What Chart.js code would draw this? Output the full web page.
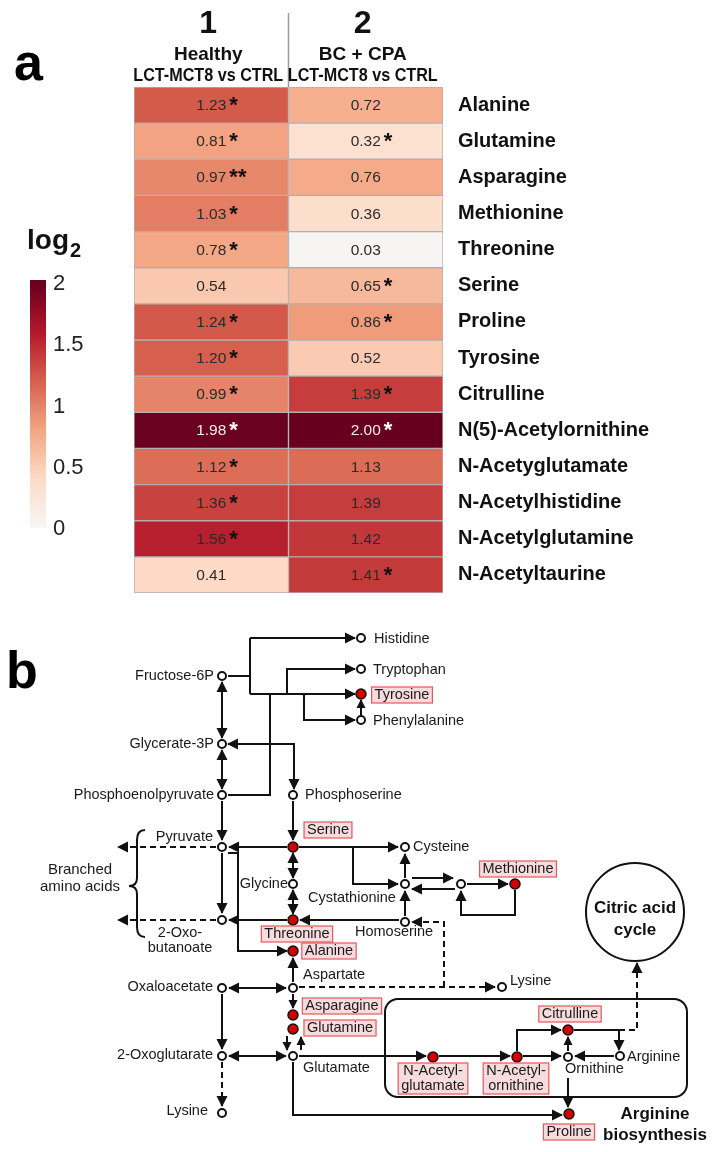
<!DOCTYPE html>
<html>
<head>
<meta charset="utf-8">
<script src="https://cdn.jsdelivr.net/npm/chart.js@4.4.1/dist/chart.umd.min.js"></script>
<style>
html, body { margin: 0; padding: 0; background: #fff; }
#wrap { position: relative; width: 714px; height: 1152px; }
canvas { position: absolute; left: 0; }
</style>
</head>
<body>
<div id="wrap">
  <canvas id="heatmap" width="714" height="620" style="top:0"></canvas>
  <canvas id="pathway" width="714" height="532" style="top:620px"></canvas>
</div>
<script>
// ---- panel a: heatmap data ----
const metabolites = ['Alanine', 'Glutamine', 'Asparagine', 'Methionine', 'Threonine', 'Serine', 'Proline',
    'Tyrosine', 'Citrulline', 'N(5)-Acetylornithine', 'N-Acetyglutamate', 'N-Acetylhistidine',
    'N-Acetylglutamine', 'N-Acetyltaurine'];
const healthyLog2 = [1.23, 0.81, 0.97, 1.03, 0.78, 0.54, 1.24, 1.20, 0.99, 1.98, 1.12, 1.36, 1.56, 0.41];
const healthyStars = ['*', '*', '**', '*', '*', '', '*', '*', '*', '*', '*', '*', '*', ''];
const bcCpaLog2 = [0.72, 0.32, 0.76, 0.36, 0.03, 0.65, 0.86, 0.52, 1.39, 2.00, 1.13, 1.39, 1.42, 1.41];
const bcCpaStars = ['', '*', '', '', '', '*', '*', '', '*', '*', '', '', '', '*'];
const columnNumbers = ['1', '2'];
const columnTitles = [['Healthy', 'LCT-MCT8 vs CTRL'], ['BC + CPA', 'LCT-MCT8 vs CTRL']];
const colorbarTicks = [0, 0.5, 1, 1.5, 2];

// colour scale (upper half of RdBu)
const scaleStops = [0, 0.4, 0.8, 1.2, 1.6, 2.0];
const scaleColors = ['#f7f7f7', '#fddbc7', '#f4a582', '#d6604d', '#b2182b', '#67001f'];

function hexToRgb(h) {
    return [1, 3, 5].map(i => parseInt(h.substr(i, 2), 16));
}

function cellColor(v) {
    v = Math.max(0, Math.min(2, v));
    let i = 0;
    while (i < scaleStops.length - 2 && v > scaleStops[i + 1]) i++;
    const t = (v - scaleStops[i]) / (scaleStops[i + 1] - scaleStops[i]);
    const a = hexToRgb(scaleColors[i]), b = hexToRgb(scaleColors[i + 1]);
    const c = a.map((x, k) => Math.round(x + (b[k] - x) * t));
    return `rgb(${c[0]}, ${c[1]}, ${c[2]})`;
}

const NARROW = '"Liberation Sans Narrow", "Liberation Sans", Arial, sans-serif';
const SANS = '"Liberation Sans", Arial, sans-serif';

// draws headers, cell numbers, colour bar
const heatmapDecor = {
    id: 'heatmapDecor',
    afterDraw(chart) {
        const ctx = chart.ctx;
        const xs = chart.scales.x;
        const area = chart.chartArea;
        ctx.save();

        // panel letter
        ctx.fillStyle = '#000';
        ctx.font = 'bold 52px ' + SANS;
        ctx.textAlign = 'left';
        ctx.textBaseline = 'alphabetic';
        ctx.fillText('a', 14, 80);

        // divider between the columns
        ctx.strokeStyle = '#9a9a9a';
        ctx.lineWidth = 1.5;
        ctx.beginPath();
        ctx.moveTo(xs.getPixelForValue(1), 13);
        ctx.lineTo(xs.getPixelForValue(1), area.top);
        ctx.stroke();

        // column headers
        ctx.textAlign = 'center';
        columnNumbers.forEach((n, c) => {
            const cx = xs.getPixelForValue(c + 0.5) - 3;
            ctx.fillStyle = '#111';
            ctx.font = 'bold 32px ' + NARROW;
            ctx.fillText(n, cx, 33, 20);
            ctx.font = 'bold 19px ' + NARROW;
            ctx.fillText(columnTitles[c][0], cx, 60, 150);
            ctx.fillText(columnTitles[c][1], cx, 81, 150);
        });

        // cell values and significance stars
        chart.data.datasets.forEach((ds, d) => {
            chart.getDatasetMeta(d).data.forEach((el, i) => {
                const p = el.getCenterPoint();
                const v = ds.values[i];
                const txt = v.toFixed(2);
                ctx.font = '15.5px ' + SANS;
                ctx.fillStyle = v > 1.8 ? '#f4eaea' : '#2b2b2b';
                ctx.textAlign = 'center';
                ctx.fillText(txt, p.x, p.y + 5);
                if (ds.stars[i]) {
                    const w = ctx.measureText(txt).width;
                    ctx.font = 'bold 22px ' + SANS;
                    ctx.textAlign = 'left';
                    ctx.fillStyle = v > 1.8 ? '#ffffff' : '#111';
                    ctx.fillText(ds.stars[i], p.x + w / 2 + 3, p.y + 7);
                }
            });
        });

        // colour bar
        const barX = 30, barW = 16, barTop = 283, barBottom = 528;
        const grad = ctx.createLinearGradient(0, barBottom, 0, barTop);
        scaleStops.forEach((s, k) => grad.addColorStop(s / 2, scaleColors[k]));
        ctx.fillStyle = grad;
        ctx.fillRect(barX, barTop - 3, barW, barBottom - barTop + 3);
        ctx.fillStyle = '#222';
        ctx.font = '22px ' + SANS;
        ctx.textAlign = 'left';
        ctx.textBaseline = 'middle';
        colorbarTicks.forEach(t => {
            const y = barBottom - (t / 2) * (barBottom - barTop);
            ctx.fillText(String(t), barX + 23, y + 1);
        });
        ctx.textBaseline = 'alphabetic';
        ctx.fillStyle = '#111';
        ctx.font = 'bold 28px ' + SANS;
        ctx.fillText('log', 27, 249);
        const lw = ctx.measureText('log').width;
        ctx.font = 'bold 20px ' + SANS;
        ctx.fillText('2', 27 + lw + 1, 257);
        ctx.restore();
    }
};

new Chart(document.getElementById('heatmap').getContext('2d'), {
    type: 'bar',
    data: {
        labels: metabolites,
        datasets: [{
            label: 'Healthy',
            data: metabolites.map(() => [0, 1]),
            backgroundColor: healthyLog2.map(cellColor),
            values: healthyLog2,
            stars: healthyStars
        }, {
            label: 'BC + CPA',
            data: metabolites.map(() => [1, 2]),
            backgroundColor: bcCpaLog2.map(cellColor),
            values: bcCpaLog2,
            stars: bcCpaStars
        }]
    },
    options: {
        indexAxis: 'y',
        responsive: false,
        animation: false,
        layout: { padding: { left: 134, top: 87, bottom: 19, right: 0 }, autoPadding: false },
        datasets: {
            bar: {
                barPercentage: 1,
                categoryPercentage: 1,
                grouped: false,
                borderWidth: 1,
                borderColor: '#b7adad',
                borderSkipped: false
            }
        },
        plugins: { legend: { display: false }, tooltip: { enabled: false } },
        scales: {
            x: { type: 'linear', min: 0, max: 2, display: false },
            y: {
                position: 'right',
                grid: { display: false, drawTicks: false },
                border: { display: false },
                ticks: {
                    padding: 15,
                    color: '#111',
                    font: { family: SANS, size: 20, weight: 'bold' }
                },
                afterFit: s => { s.width = 271; }
            }
        }
    },
    plugins: [heatmapDecor]
});

// ---- panel b: pathway (positions) ----
const openNodes = [[222, 676], [222, 744], [222, 795], [222, 847], [222, 920], [222, 988], [222, 1056],
    [222, 1113], [361, 638], [361, 669], [361, 720], [293, 795], [293, 884], [293, 988], [293, 1056],
    [405, 847], [405, 884], [405, 922], [461, 884], [502, 987], [568, 1057], [620, 1056]];
const measuredNodes = [[361, 694], [293, 847], [293, 920], [293, 951], [293, 1015], [293, 1029],
    [515, 884], [568, 1030], [433, 1057], [517, 1057], [569, 1114]];
const citricCycle = [[635, 912]];

// each edge: polyline, arrow at end (head), arrow at start (tail), dashed
const edges = [
    { pts: [[228, 676], [250, 676]] },
    { pts: [[250, 638], [250, 694]] },
    { pts: [[250, 638], [355, 638]], head: true },
    { pts: [[250, 694], [355, 694]], head: true },
    { pts: [[287, 694], [287, 669], [355, 669]], head: true },
    { pts: [[304, 694], [304, 720], [355, 720]], head: true },
    { pts: [[361, 715], [361, 700]], head: true, small: true },
    { pts: [[228, 795], [270, 795], [270, 694]] },
    { pts: [[222, 682], [222, 738]], head: true, tail: true },
    { pts: [[222, 750], [222, 789]], head: true, tail: true },
    { pts: [[228, 744], [294, 744], [294, 789]], head: true, tail: true },
    { pts: [[222, 801], [222, 840]], head: true },
    { pts: [[293, 801], [293, 840]], head: true },
    { pts: [[287, 847], [229, 847]], head: true },
    { pts: [[216, 847], [118, 847]], head: true, dash: true },
    { pts: [[222, 853], [222, 913]], head: true },
    { pts: [[293, 853], [293, 878]], head: true, tail: true },
    { pts: [[293, 890], [293, 914]], head: true, tail: true },
    { pts: [[287, 920], [229, 920]], head: true },
    { pts: [[216, 920], [118, 920]], head: true, dash: true },
    { pts: [[228, 853], [238, 853], [238, 951], [287, 951]], head: true },
    { pts: [[299, 847], [398, 847]], head: true },
    { pts: [[353, 847], [353, 884], [398, 884]], head: true },
    { pts: [[405, 878], [405, 854]], head: true },
    { pts: [[405, 916], [405, 891]], head: true },
    { pts: [[399, 920], [300, 920]], head: true },
    { pts: [[412, 878], [453, 878]], head: true },
    { pts: [[455, 889], [412, 889]], head: true },
    { pts: [[467, 884], [508, 884]], head: true },
    { pts: [[515, 890], [515, 915], [461, 915], [461, 891]], head: true },
    { pts: [[299, 987], [495, 987]], head: true, dash: true },
    { pts: [[444, 987], [444, 922], [412, 922]], head: true, dash: true },
    { pts: [[229, 988], [286, 988]], head: true, tail: true },
    { pts: [[293, 982], [293, 958]], head: true },
    { pts: [[293, 994], [293, 1008]], head: true, small: true },
    { pts: [[222, 994], [222, 1049]], head: true },
    { pts: [[229, 1056], [286, 1056]], head: true, tail: true },
    { pts: [[287, 1036], [287, 1050]], head: true, small: true },
    { pts: [[301, 1050], [301, 1037]], head: true, small: true },
    { pts: [[222, 1062], [222, 1106]], head: true, dash: true },
    { pts: [[293, 1062], [293, 1115], [562, 1115]], head: true },
    { pts: [[299, 1056], [426, 1056]], head: true },
    { pts: [[439, 1056], [510, 1056]], head: true },
    { pts: [[523, 1056], [561, 1056]], head: true },
    { pts: [[517, 1051], [517, 1030], [561, 1030]], head: true },
    { pts: [[568, 1051], [568, 1037]], head: true, small: true },
    { pts: [[574, 1030], [619, 1030], [619, 1050]], head: true },
    { pts: [[614, 1056], [575, 1056]], head: true },
    { pts: [[619, 1030], [637, 1030], [637, 963]], head: true, dash: true },
    { pts: [[568, 1078], [568, 1107]], head: true }
];

const pathLabels = [
    ['Fructose-6P', 214, 676, 'right'], ['Glycerate-3P', 214, 744, 'right'],
    ['Phosphoenolpyruvate', 214, 795, 'right'], ['Pyruvate', 213, 837, 'right'],
    ['2-Oxo-', 180, 933, 'center'], ['butanoate', 180, 948, 'center'],
    ['Oxaloacetate', 213, 987, 'right'], ['2-Oxoglutarate', 213, 1055, 'right'],
    ['Lysine', 208, 1111, 'right'], ['Histidine', 374, 639, 'left'],
    ['Tryptophan', 373, 670, 'left'], ['Phenylalanine', 373, 721, 'left'],
    ['Phosphoserine', 305, 795, 'left'], ['Glycine', 288, 884, 'right'],
    ['Cystathionine', 308, 898, 'left'], ['Homoserine', 355, 932, 'left'],
    ['Aspartate', 303, 975, 'left'], ['Glutamate', 303, 1068, 'left'],
    ['Cysteine', 413, 847, 'left'], ['Lysine', 510, 981, 'left'],
    ['Ornithine', 565, 1069, 'left'], ['Arginine', 627, 1057, 'left'],
    ['Branched', 80, 870, 'center'], ['amino acids', 80, 887, 'center']
];
const boxedLabels = [
    [['Tyrosine'], 402, 695], [['Serine'], 328, 830], [['Threonine'], 297, 934],
    [['Alanine'], 329, 951], [['Asparagine'], 342, 1006], [['Glutamine'], 340, 1028],
    [['Methionine'], 518, 869], [['Citrulline'], 570, 1014],
    [['N-Acetyl-', 'glutamate'], 433, 1071], [['N-Acetyl-', 'ornithine'], 516, 1071],
    [['Proline'], 569, 1132]
];
const boldLabels = [['Citric acid', 635, 908], ['cycle', 635, 930], ['Arginine', 655, 1114], ['biosynthesis', 655, 1135]];
const argBox = [385, 999, 687, 1097];
const braceSpan = [137, 830, 937, 886];

function arrowHead(ctx, from, to, len, half) {
    const a = Math.atan2(to.y - from.y, to.x - from.x);
    ctx.save();
    ctx.translate(to.x, to.y);
    ctx.rotate(a);
    ctx.beginPath();
    ctx.moveTo(1, 0);
    ctx.lineTo(-len, -half);
    ctx.lineTo(-len, half);
    ctx.closePath();
    ctx.fill();
    ctx.restore();
}

const pathwayDecor = {
    id: 'pathwayDecor',
    beforeDatasetsDraw(chart) {
        const ctx = chart.ctx, x = chart.scales.x, y = chart.scales.y;
        ctx.save();
        // arginine biosynthesis box
        ctx.strokeStyle = '#111';
        ctx.lineWidth = 2;
        const bx = x.getPixelForValue(argBox[0]), by = y.getPixelForValue(argBox[1]);
        const bw = x.getPixelForValue(argBox[2]) - bx, bh = y.getPixelForValue(argBox[3]) - by;
        ctx.beginPath();
        ctx.roundRect(bx, by, bw, bh, 13);
        ctx.stroke();
        // brace for branched amino acids
        const cx = x.getPixelForValue(braceSpan[0]);
        const t = y.getPixelForValue(braceSpan[1]), b = y.getPixelForValue(braceSpan[2]);
        const m = y.getPixelForValue(braceSpan[3]);
        ctx.lineWidth = 2;
        ctx.beginPath();
        ctx.moveTo(cx + 8, t);
        ctx.quadraticCurveTo(cx, t, cx, t + 10);
        ctx.lineTo(cx, m - 8);
        ctx.quadraticCurveTo(cx, m, cx - 8, m);
        ctx.quadraticCurveTo(cx, m, cx, m + 8);
        ctx.lineTo(cx, b - 10);
        ctx.quadraticCurveTo(cx, b, cx + 8, b);
        ctx.stroke();
        ctx.restore();
    },
    afterDatasetsDraw(chart) {
        const ctx = chart.ctx;
        ctx.save();
        ctx.fillStyle = '#111';
        chart.data.datasets.forEach((ds, i) => {
            if (!ds.head && !ds.tail) return;
            const pts = chart.getDatasetMeta(i).data;
            const n = pts.length;
            const len = ds.small ? 8 : 10, half = ds.small ? 4.5 : 5.5;
            if (ds.head) arrowHead(ctx, pts[n - 2], pts[n - 1], len, half);
            if (ds.tail) arrowHead(ctx, pts[1], pts[0], len, half);
        });
        ctx.restore();
    },
    afterDraw(chart) {
        const ctx = chart.ctx, x = chart.scales.x, y = chart.scales.y;
        ctx.save();
        ctx.fillStyle = '#000';
        ctx.font = 'bold 52px ' + SANS;
        ctx.textAlign = 'left';
        ctx.textBaseline = 'alphabetic';
        ctx.fillText('b', 6, y.getPixelForValue(688));

        ctx.textBaseline = 'middle';
        ctx.fillStyle = '#1a1a1a';
        pathLabels.forEach(([txt, lx, ly, align]) => {
            ctx.textAlign = align;
            ctx.font = (txt === 'Branched' || txt === 'amino acids' ? '15px ' : '14.5px ') + SANS;
            ctx.fillText(txt, x.getPixelForValue(lx), y.getPixelForValue(ly));
        });

        ctx.font = '14.5px ' + SANS;
        boxedLabels.forEach(([lines, lx, ly]) => {
            const px = x.getPixelForValue(lx), py = y.getPixelForValue(ly);
            const w = Math.max(...lines.map(l => ctx.measureText(l).width)) + 6;
            const h = 16 + (lines.length - 1) * 15;
            ctx.fillStyle = '#f6dcdc';
            ctx.fillRect(px - w / 2, py - 8, w, h);
            ctx.strokeStyle = '#e2595c';
            ctx.lineWidth = 1.2;
            ctx.strokeRect(px - w / 2, py - 8, w, h);
            ctx.fillStyle = '#1a1a1a';
            ctx.textAlign = 'center';
            lines.forEach((l, k) => ctx.fillText(l, px, py + k * 15));
        });

        ctx.font = 'bold 17px ' + SANS;
        ctx.fillStyle = '#111';
        ctx.textAlign = 'center';
        boldLabels.forEach(([txt, lx, ly]) => {
            ctx.fillText(txt, x.getPixelForValue(lx), y.getPixelForValue(ly));
        });
        ctx.restore();
    }
};

const toXY = arr => arr.map(([x, y]) => ({ x, y }));

const pathDatasets = [{
    data: toXY(measuredNodes),
    pointRadius: 5,
    backgroundColor: '#d40000',
    borderColor: '#111',
    borderWidth: 1.5,
    order: 0
}, {
    data: toXY(openNodes),
    pointRadius: 4,
    backgroundColor: '#ffffff',
    borderColor: '#111',
    borderWidth: 2,
    order: 1
}, {
    data: toXY(citricCycle),
    pointRadius: 49,
    backgroundColor: '#ffffff',
    borderColor: '#111',
    borderWidth: 2,
    order: 1
}].concat(edges.map(e => ({
    data: toXY(e.pts),
    showLine: true,
    pointRadius: 0,
    borderColor: '#111',
    borderWidth: 2,
    borderDash: e.dash ? [6, 4] : [],
    head: e.head,
    tail: e.tail,
    small: e.small,
    order: 5
})));

new Chart(document.getElementById('pathway').getContext('2d'), {
    type: 'scatter',
    data: { datasets: pathDatasets },
    options: {
        responsive: false,
        animation: false,
        layout: { padding: 0, autoPadding: false },
        plugins: { legend: { display: false }, tooltip: { enabled: false } },
        scales: {
            x: { type: 'linear', min: 0, max: 714, display: false },
            y: { type: 'linear', min: 620, max: 1152, reverse: true, display: false }
        }
    },
    plugins: [pathwayDecor]
});
</script>
</body>
</html>
